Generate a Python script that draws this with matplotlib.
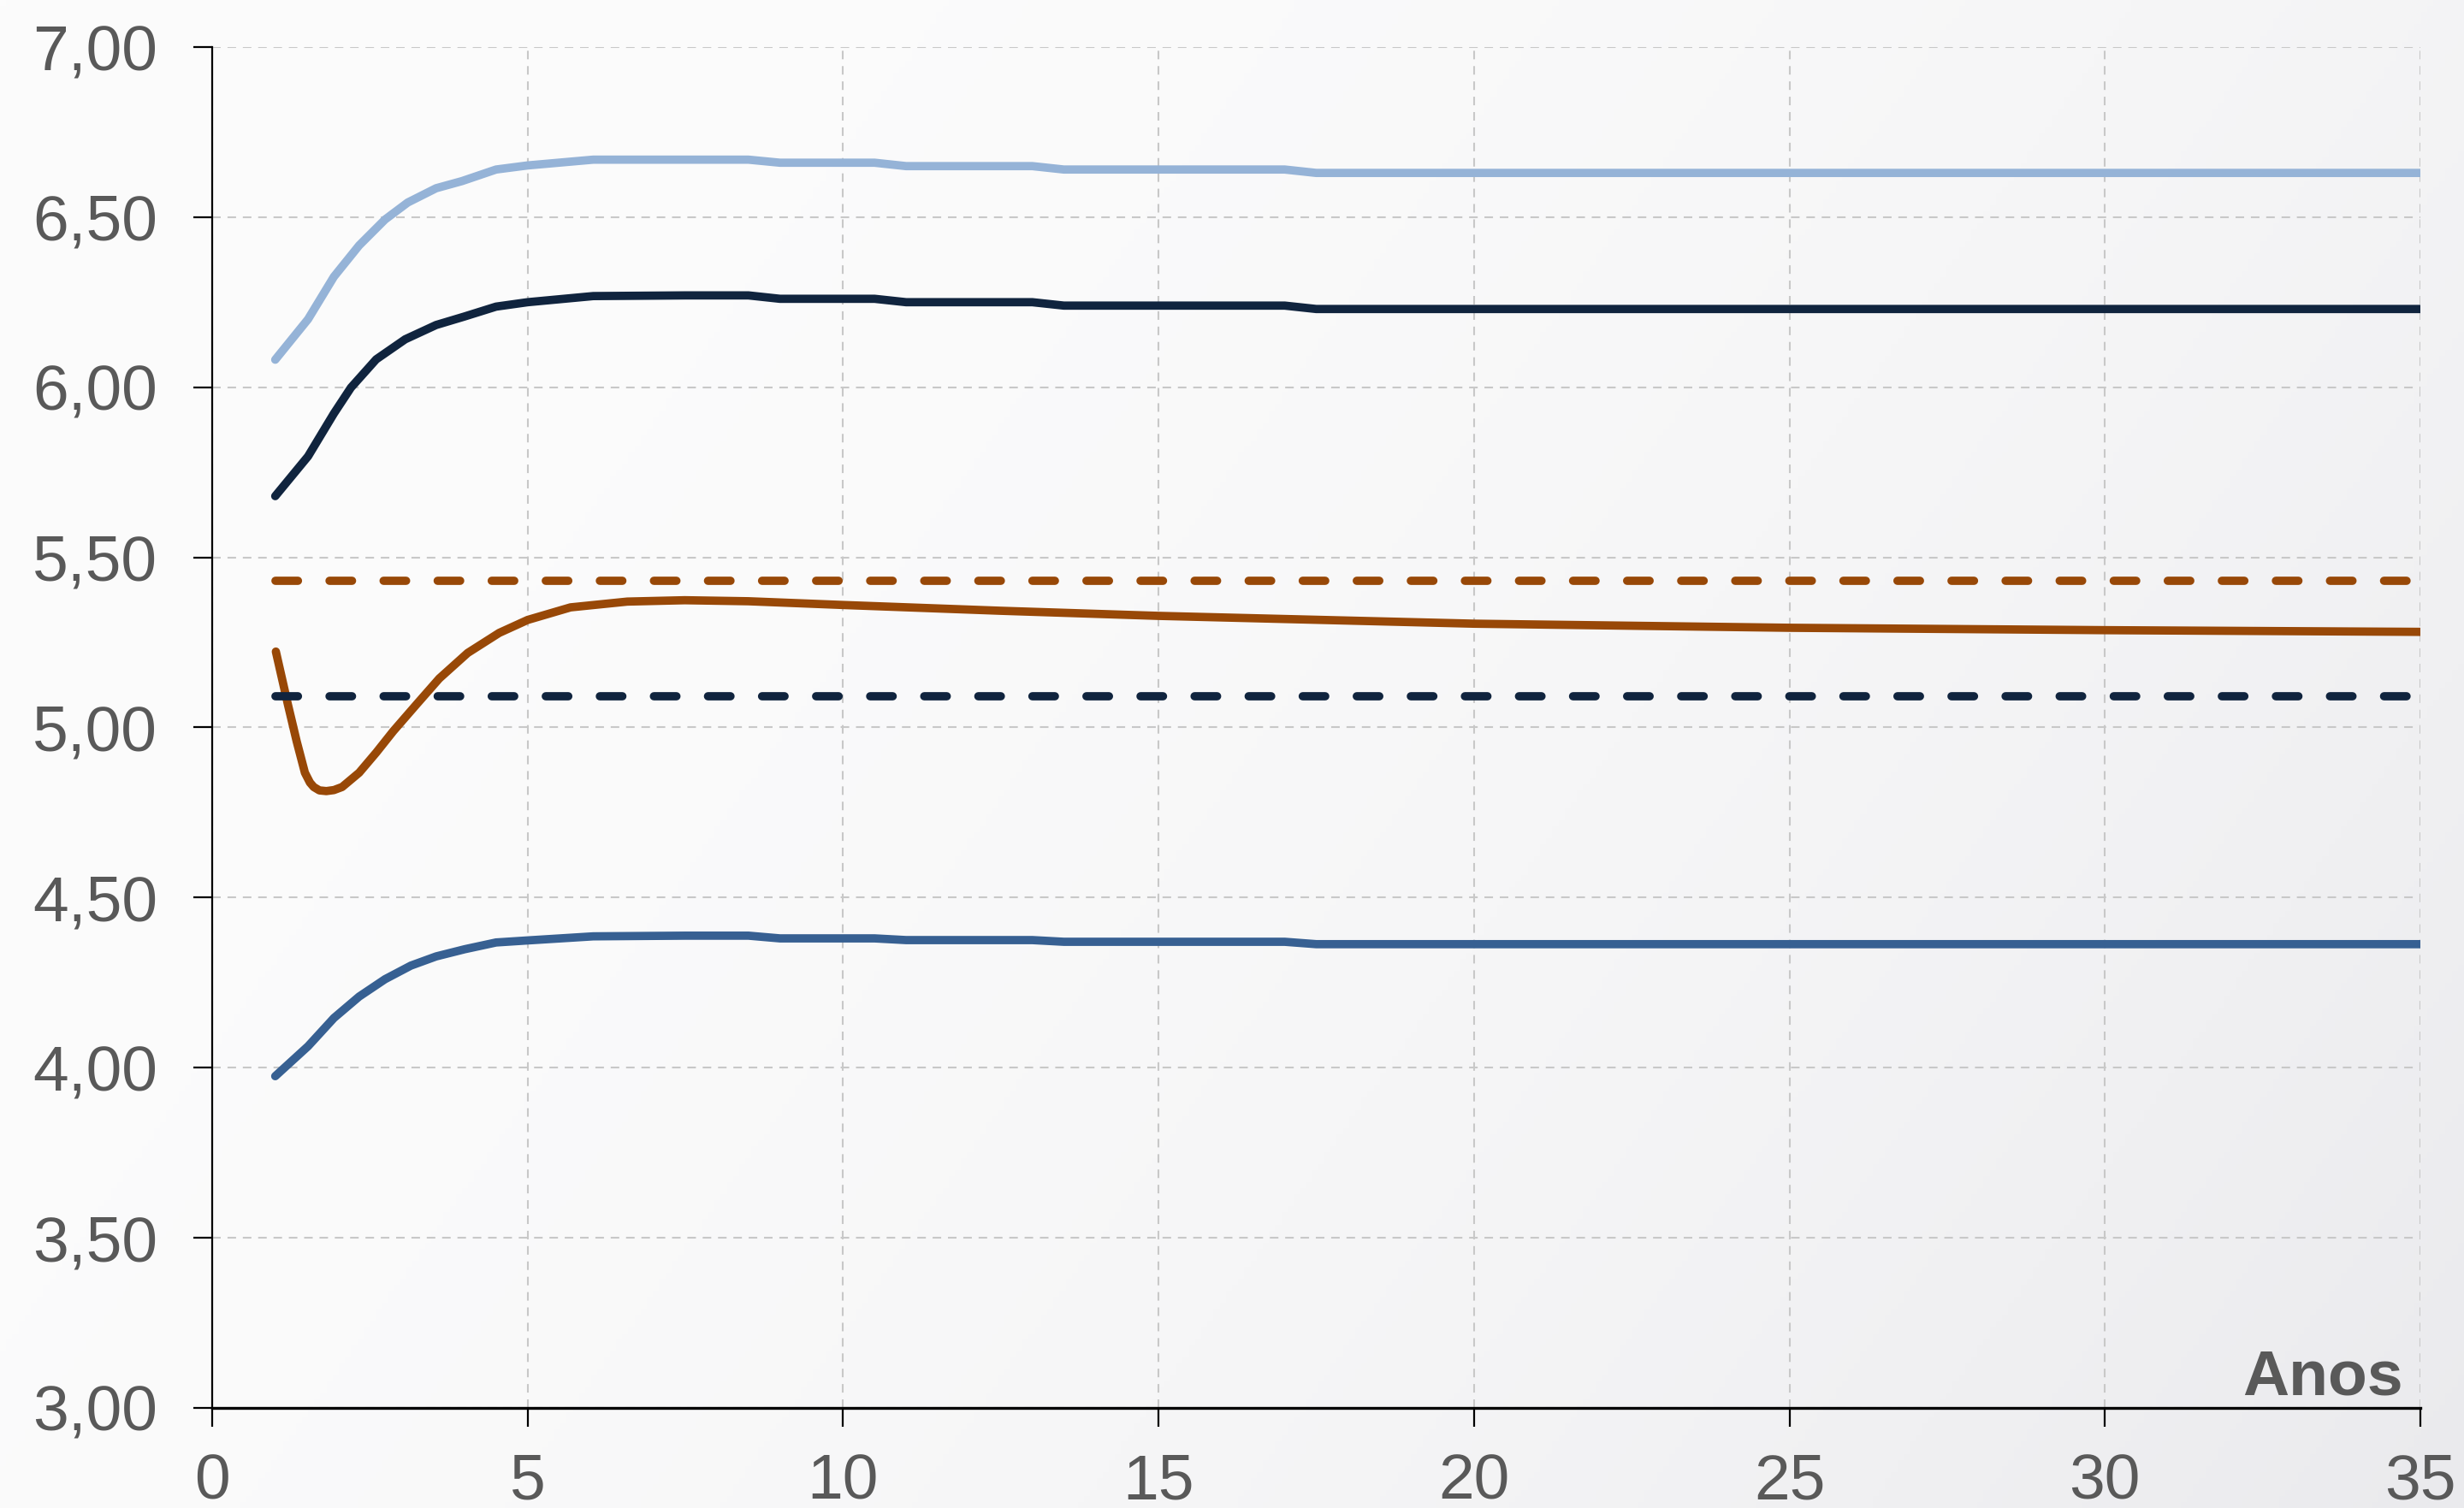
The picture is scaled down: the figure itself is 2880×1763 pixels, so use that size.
import numpy as np
import matplotlib
matplotlib.use('Agg')
import matplotlib.pyplot as plt

plt.rcParams['font.family'] = ['Liberation Sans', 'DejaVu Sans']

# dados
anos_claro = [1, 1.52, 1.93, 2.33, 2.74, 3.10, 3.55, 3.96, 4.5, 5.0, 6.04, 7.5, 8.5, 9, 10.5, 11, 13, 13.5, 17, 17.5, 20, 25, 30, 35]
serie_clara = [6.081, 6.20, 6.325, 6.417, 6.493, 6.543, 6.585, 6.606, 6.64, 6.652, 6.669, 6.669, 6.669, 6.66, 6.66, 6.65,
               6.65, 6.64, 6.64, 6.63, 6.63, 6.63, 6.63, 6.63]

anos_escuro = [1, 1.52, 1.93, 2.2, 2.6, 3.06, 3.55, 4.0, 4.5, 5.0, 6.04, 7.5, 8.5, 9, 10.5, 11, 13, 13.5, 17, 17.5, 20, 25, 30, 35]
serie_escura = [5.68, 5.797, 5.923, 5.999, 6.082, 6.141, 6.183, 6.208, 6.237, 6.25, 6.268, 6.27, 6.27, 6.26, 6.26, 6.25,
                6.25, 6.24, 6.24, 6.23, 6.23, 6.23, 6.23, 6.23]

anos_medio = [1, 1.52, 1.93, 2.33, 2.74, 3.15, 3.55, 4.0, 4.5, 5.0, 6.04, 7.5, 8.5, 9, 10.5, 11, 13, 13.5, 17, 17.5, 20, 25, 30, 35]
serie_media = [3.975, 4.063, 4.146, 4.209, 4.26, 4.30, 4.327, 4.348, 4.368, 4.374, 4.386, 4.388, 4.388, 4.38, 4.38, 4.375,
               4.375, 4.37, 4.37, 4.363, 4.363, 4.363, 4.363, 4.363]

anos_taxa = [1.01, 1.2, 1.34, 1.47, 1.55, 1.61, 1.7, 1.81, 1.93, 2.06, 2.33, 2.6, 2.87, 3.24, 3.6, 4.05, 4.55, 5.0, 5.68,
             6.58, 7.49, 8.5, 10, 12.5, 15, 20, 25, 30, 35]
taxa = [5.223, 5.068, 4.959, 4.867, 4.838, 4.825, 4.815, 4.813, 4.816, 4.825, 4.867, 4.926, 4.989, 5.068, 5.144, 5.219,
        5.278, 5.316, 5.353, 5.37, 5.374, 5.371, 5.36, 5.343, 5.328, 5.305, 5.293, 5.286, 5.281]

anos_ref = [1, 35]
ref_laranja = [5.43, 5.43]
ref_escura = [5.092, 5.092]

xticks = [0, 5, 10, 15, 20, 25, 30, 35]
yticks = [3.0, 3.5, 4.0, 4.5, 5.0, 5.5, 6.0, 6.5, 7.0]

cinza = '#595959'

fig = plt.figure(figsize=(14.4, 8.815), dpi=200)

# fundo em degradê (mais escuro à direita e em baixo)
bg = fig.add_axes([0, 0, 1, 1], zorder=-10)
gx, gy = np.meshgrid(np.linspace(0, 1, 400), np.linspace(0, 1, 250))
t = np.clip(0.7 * gx + 0.3 * (1 - gy), 0, 1) ** 2.2
c0 = np.array([252, 252, 252]) / 255
c1 = np.array([234, 234, 237]) / 255
img = c0 + (c1 - c0) * t[..., None]
bg.imshow(img, aspect='auto', extent=[0, 1, 0, 1], origin='lower')
bg.axis('off')

ax = fig.add_axes([0.0861, 0.0664, 0.8962, 0.9024])
ax.set_facecolor('none')

lw = 3.5
ax.plot(anos_claro, serie_clara, color='#95b3d7', lw=lw, solid_capstyle='round', solid_joinstyle='round', zorder=3)
ax.plot(anos_escuro, serie_escura, color='#10243e', lw=lw, solid_capstyle='round', solid_joinstyle='round', zorder=3)
ax.plot(anos_medio, serie_media, color='#376092', lw=lw, solid_capstyle='round', solid_joinstyle='round', zorder=3)
ax.plot(anos_taxa, taxa, color='#984807', lw=lw, solid_capstyle='round', solid_joinstyle='round', zorder=3)
ax.plot(anos_ref, ref_laranja, color='#984807', lw=lw, dashes=(2.7, 3.8), dash_capstyle='round', zorder=3)
ax.plot(anos_ref, ref_escura, color='#10243e', lw=lw, dashes=(2.7, 3.8), dash_capstyle='round', zorder=3)

ax.set_xlim(0, 35)
ax.set_ylim(3, 7)
ax.set_xticks(xticks)
ax.set_yticks(yticks)
ax.set_yticklabels([('%.2f' % v).replace('.', ',') for v in yticks])

ax.grid(True, color='#c8c8c8', lw=0.75, dashes=(4.8, 3.8))
ax.set_axisbelow(True)

for s in ['top', 'right']:
    ax.spines[s].set_visible(False)
ax.spines['left'].set_linewidth(0.8)
ax.spines['bottom'].set_linewidth(1.2)
ax.tick_params(axis='both', direction='out', length=8, width=0.8, colors='black',
               labelcolor=cinza, labelsize=27)
ax.tick_params(axis='y', pad=15)
ax.tick_params(axis='x', pad=11)

ax.text(34.73, 3.038, 'Anos', ha='right', va='baseline', fontsize=27, fontweight='bold', color=cinza)

fig.savefig('out.png', dpi=200)
